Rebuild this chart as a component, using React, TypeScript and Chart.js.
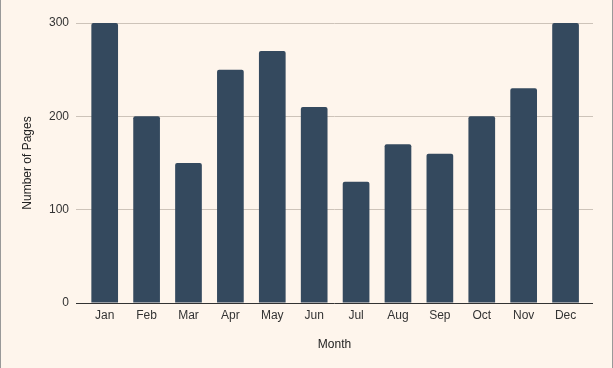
import React, { useEffect, useRef } from "react";
import { Chart, registerables } from "chart.js";

Chart.register(...registerables);

const months = ["Jan", "Feb", "Mar", "Apr", "May", "Jun", "Jul", "Aug", "Sep", "Oct", "Nov", "Dec"];
const pages = [300, 200, 150, 250, 270, 210, 130, 170, 160, 200, 230, 300];
const yTicks = [0, 100, 200, 300];

export default function App() {
  const ref = useRef<HTMLCanvasElement | null>(null);

  useEffect(() => {
    document.body.style.margin = "0";
    const ctx = ref.current;
    if (!ctx) return;
    const font = { family: "'Liberation Sans', Arial, sans-serif", size: 12 };
    const chart = new Chart(ctx, {
      type: "bar",
      data: {
        datasets: [
          {
            label: "Number of Pages",
            data: pages.map((v, i) => ({ x: i, y: v })),
            backgroundColor: "#34495e",
            borderRadius: { topLeft: 2, topRight: 2, bottomLeft: 0, bottomRight: 0 },
            borderSkipped: "start",
            barPercentage: 0.637,
            categoryPercentage: 1,
          },
        ],
      },
      options: {
        animation: false,
        responsive: false,
        maintainAspectRatio: false,
        layout: { padding: { top: 23, right: 19, left: 0, bottom: 0 } },
        plugins: { legend: { display: false }, tooltip: { enabled: false } },
        scales: {
          x: {
            type: "linear",
            offset: false,
            min: -0.685,
            max: 11.655,
            afterBuildTicks: (scale: any) => {
              scale.ticks = months.map((_, i) => ({ value: i }));
            },
            afterFit: (scale: any) => {
              scale.height = 65;
            },
            grid: { display: false, drawTicks: false, offset: false },
            border: { display: false },
            ticks: {
              padding: 5,
              color: "#333",
              font,
              autoSkip: false,
              maxRotation: 0,
              callback: (v: any) => months[Number(v)] ?? "",
            },
            title: {
              display: true,
              text: "Month",
              color: "#222",
              font,
              padding: { top: 0, bottom: 16 },
            },
          },
          y: {
            min: 0,
            max: 300,
            afterBuildTicks: (scale: any) => {
              scale.ticks = yTicks.map((v) => ({ value: v }));
            },
            afterFit: (scale: any) => {
              scale.width = 75;
            },
            grid: {
              drawTicks: false,
              color: (c: any) => (c.tick && c.tick.value === 0 ? "#333333" : "#cdc3b9"),
              lineWidth: 1,
            },
            border: { display: false },
            ticks: { padding: 7, color: "#333", font },
            title: {
              display: true,
              text: "Number of Pages",
              color: "#222",
              font,
              padding: { top: 19, bottom: 0 },
            },
          },
        },
      },
    });
    return () => chart.destroy();
  }, []);

  return (
    <div
      style={{
        width: 613,
        height: 368,
        boxSizing: "border-box",
        borderLeft: "1px solid #999",
        borderRight: "1px solid #999",
        background: "#fef5ec",
      }}
    >
      <canvas ref={ref} width={611} height={368} style={{ display: "block", width: 611, height: 368 }} />
    </div>
  );
}
